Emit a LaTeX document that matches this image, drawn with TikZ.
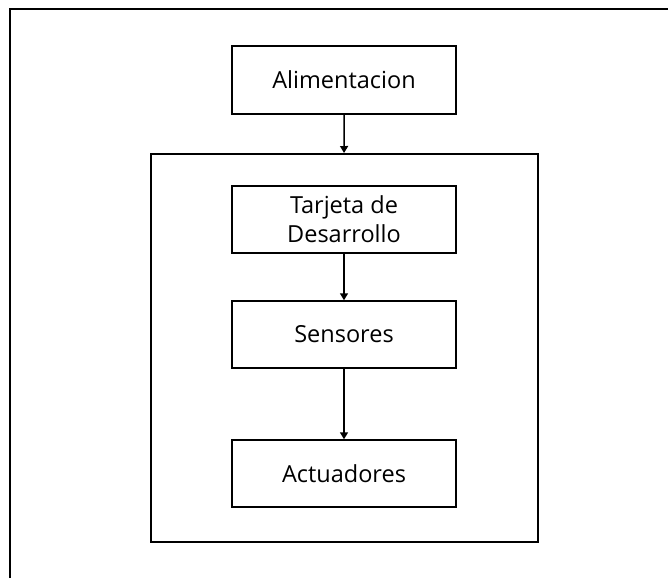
\documentclass[tikz,border=0pt]{standalone}
\usepackage{fontspec}
\setmainfont{Open Sans}
\usepackage{tikz}
\usetikzlibrary{calc, arrows.meta}

\tikzset{
  bloque/.style = {draw, line width = 1.5pt, minimum width = 224pt, minimum height = 67pt,
    inner sep = 0pt, align = center, font = \fontsize{23.5}{29}\selectfont},
}

\begin{document}
\begin{tikzpicture}[x = 1pt, y = -1pt]
			\def\xC{344};
			\useasboundingbox (0,0) rectangle (668,578);

			% marco de la captura
			\draw [line width = 2pt] (10,578) -- (10,9.5) -- (668,9.5);

			\begin{scope}
				\node [bloque, minimum height = 68pt] (alim) at (\xC,80) {Alimentacion};
				\node [draw, line width = 2pt, minimum width = 387pt, minimum height = 388pt] (placa) at (344.2,348) {};
				\node [bloque] (tarjeta) at (\xC,219.3) {Tarjeta de\\Desarrollo};
				\node [bloque] (sens) at (\xC,334.5) {Sensores};
				\node [bloque] (act) at (\xC,473.5) {Actuadores};
			\end{scope}

			\begin{scope}[-{Triangle[width = 8pt, length = 7pt]}, line width = 1.5pt]
				\draw (alim) -- (placa);
				\draw (tarjeta) -- (sens);
				\draw (sens) -- (act);
			\end{scope}
		\end{tikzpicture}
\end{document}
